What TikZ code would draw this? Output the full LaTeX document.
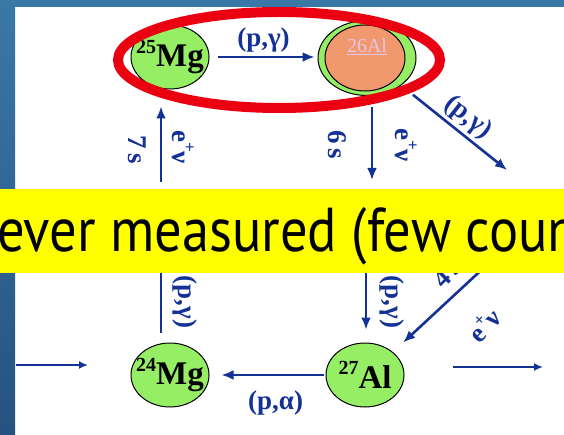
\documentclass[tikz,border=0pt]{standalone}
\usepackage{fontspec}
\setmainfont{Liberation Serif}
\newfontfamily\faixafonte[FakeStretch=0.88]{PT Sans}
\usepackage{tikz}
\usetikzlibrary{arrows.meta, positioning, shapes.geometric}
\definecolor{azulfaixa}{RGB}{58,120,168}
\definecolor{azulescuro}{RGB}{38,82,128}
\definecolor{verdenuc}{RGB}{150,238,100}
\definecolor{laranjanuc}{RGB}{242,152,110}
\definecolor{azulseta}{RGB}{20,50,150}
\definecolor{vermelho}{RGB}{235,0,18}
\definecolor{amarelo}{RGB}{255,255,0}
\definecolor{lilas}{RGB}{228,198,232}
\newcommand\iso[2]{\makebox[0pt]{\raisebox{0.42em}{\fontsize{20}{20}\selectfont #1}#2}}
\newcommand\emais{e\raisebox{0.42em}{\fontsize{17}{17}\selectfont +}ν}

\begin{document}
\begin{tikzpicture}[x=1pt, y=-1pt,
  nucleo/.style={ellipse, draw, line width=1pt, fill=verdenuc, inner sep=0pt,
                 minimum width=78pt, minimum height=64pt,
                 font=\bfseries\fontsize{33}{33}\selectfont},
  seta/.style={-{Latex[length=12pt, width=10pt]}, draw=azulseta, line width=2.6pt},
  setafina/.style={-{Latex[length=9pt, width=8pt]}, draw=azulseta, line width=1.8pt},
  haste/.style={draw=azulseta, line width=2.6pt},
  rotulo/.style={text=azulseta, font=\bfseries\fontsize{27}{27}\selectfont, inner sep=1pt}
]
\useasboundingbox (0,0) rectangle (564,435);
\fill[white] (0,0) rectangle (564,435);
\shade[top color=azulfaixa, bottom color=azulescuro] (0,0) rectangle (15,435);
\fill[azulfaixa] (0,0) rectangle (564,7);

% nucleos
\node[nucleo] (mg25) at (170,57) {\iso{25}{Mg}};
\node[nucleo, minimum width=98pt, minimum height=75pt] (al26) at (367,58) {};
\node[nucleo, fill=laranjanuc, minimum width=80pt, minimum height=66pt] (al26int) at (365,58) {};
\node[text=lilas, font=\fontsize{20}{20}\selectfont] (al26txt) at (367,47) {\underline{26Al}};
\node[nucleo] (mg24) at (170,375) {\iso{24}{Mg}};
\node[nucleo] (al27) at (365,375) {\iso{27}{Al}};

\node[ellipse, draw=vermelho, line width=10pt, minimum width=322pt,
      minimum height=96pt] (destaque) at (279,60) {};

% pontas escondidas pela faixa
\coordinate (ini25) at (161,182);
\coordinate (fim26) at (372,180);
\coordinate (fim27) at (507,170);
\coordinate (topo24) at (161,265);
\coordinate (ini26) at (366,265);
\coordinate (ini27) at (490,262);
\coordinate (entraA) at (16,365);
\coordinate (entraB) at (88,365);
\coordinate (saiA) at (453,367);
\coordinate (saiB) at (543,367);

% setas de cima
\draw[seta, shorten <=8pt, shorten >=3pt] (mg25.east) -- node[rotulo, above=2pt] {(p,γ)} (al26.west |- mg25.east);
\draw[seta, shorten >=17pt] (ini25) -- (mg25.south -| ini25);
\node[rotulo, rotate=-90] (t25) at (137,150) {7\,s};
\node[rotulo, rotate=-90] (d25) at (183,147) {\emais};
\draw[seta, shorten <=11pt] (al26.south -| fim26) -- (fim26);
\node[rotulo, rotate=-90] (t26) at (337,145) {6\,s};
\node[rotulo, rotate=-90] (d26) at (406,145) {\emais};
\draw[seta, shorten <=15pt] (al26) -- node[rotulo, sloped, above=2pt, pos=0.53] {(p,γ)} (fim27);

% setas de baixo
\draw[haste, shorten <=10pt] (mg24.north -| topo24) -- (topo24);
\node[rotulo, rotate=-90] (c24) at (185,302) {(p,γ)};
\draw[seta, shorten >=13pt] (ini26) -- (al27.north -| ini26);
\node[rotulo, rotate=-90] (c26) at (392,302) {(p,γ)};
\draw[seta, shorten >=14pt] (ini27) -- (al27.north east);
\node[rotulo, rotate=45] (t27) at (447,273) {4\,s};
\node[rotulo, rotate=45] (d27) at (484,325) {\emais};
\draw[seta, shorten <=2pt, shorten >=12pt] (al27.west) -- node[rotulo, below=13pt, pos=0.43] {(p,α)} (mg24.east |- al27.west);
\draw[setafina] (entraA) -- (entraB);
\draw[setafina] (saiA) -- (saiB);

% faixa amarela
\fill[amarelo] (0,189) rectangle (564,273);
\begin{scope}
  \clip (0,189) rectangle (564,273);
  \node[anchor=base west, inner sep=0pt, font=\faixafonte\fontsize{62}{62}\selectfont] (faixa) at (-3,252) {ever measured (few coun};
\end{scope}
\end{tikzpicture}
\end{document}
